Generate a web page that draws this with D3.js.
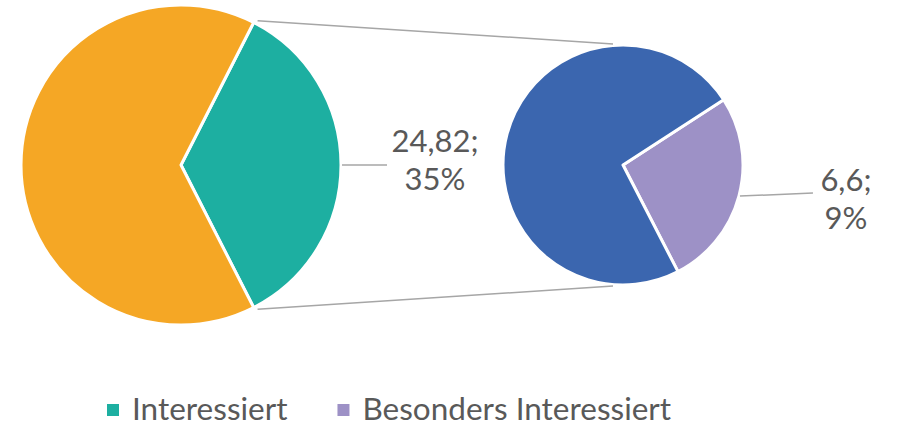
<!DOCTYPE html>
<html>
<head>
<meta charset="utf-8">
<script src="https://cdn.jsdelivr.net/npm/d3@7"></script>
<style>
  body { margin: 0; background: #fff; }
  svg { display: block; font-family: Lato, "Open Sans", sans-serif; }
</style>
</head>
<body>
<div id="chart"></div>
<script>
// main pie: [split slice, rest]
const mainNames = ["Interessiert", "Rest"];
const mainValues = [24.82, 46.1];
const mainColors = ["#1DAFA1", "#F5A725"];

// second pie: breakdown of the split slice
const subNames = ["Besonders Interessiert", "Sonstige"];
const subValues = [6.6, 18.22];
const subColors = ["#9D91C6", "#3B66AF"];

const labels = [
    { lines: ["24,82;", "35%"] },
    { lines: ["6,6;", "9%"] }
];

const legendItems = [
    { name: "Interessiert", color: "#1DAFA1" },
    { name: "Besonders Interessiert", color: "#9D91C6" }
];

const width = 899, height = 427;
const textColor = "#595959";

const svg = d3.select("#chart").append("svg")
    .attr("width", width)
    .attr("height", height);

const main = { cx: 181, cy: 165, r: 160 };
const sub = { cx: 623, cy: 165, r: 120 };

// main pie, split slice centred on the right side
const mainTotal = d3.sum(mainValues);
const splitAngle = mainValues[0] / mainTotal * 2 * Math.PI;
const mainPie = d3.pie().sort(null)
    .startAngle(Math.PI / 2 - splitAngle / 2)
    .endAngle(Math.PI / 2 - splitAngle / 2 + 2 * Math.PI);
const mainArcs = mainPie(mainValues);

const arcMain = d3.arc().innerRadius(0).outerRadius(main.r);

const gMain = svg.append("g").attr("transform", `translate(${main.cx},${main.cy})`);
gMain.selectAll("path")
    .data(mainArcs)
    .join("path")
    .attr("d", arcMain)
    .attr("fill", (d, i) => mainColors[i])
    .attr("stroke", "#fff")
    .attr("stroke-width", 3)
    .attr("stroke-linejoin", "round");

// second pie
const subStart = 57 * Math.PI / 180;
const subPie = d3.pie().sort(null)
    .startAngle(subStart)
    .endAngle(subStart + 2 * Math.PI);
const subArcs = subPie(subValues);
const arcSub = d3.arc().innerRadius(0).outerRadius(sub.r);

const gSub = svg.append("g").attr("transform", `translate(${sub.cx},${sub.cy})`);
gSub.selectAll("path")
    .data(subArcs)
    .join("path")
    .attr("d", arcSub)
    .attr("fill", (d, i) => subColors[i])
    .attr("stroke", "#fff")
    .attr("stroke-width", 3)
    .attr("stroke-linejoin", "round");

// connector lines from split slice corners to top/bottom of second pie
const polar = (c, r, a) => [c.cx + r * Math.sin(a), c.cy - r * Math.cos(a)];
const split = mainArcs[0];
const pTop = polar(main, main.r + 2, split.startAngle);
const pBot = polar(main, main.r + 2, split.endAngle);
svg.append("line")
    .attr("x1", pTop[0] + 3).attr("y1", pTop[1])
    .attr("x2", sub.cx - 10).attr("y2", sub.cy - sub.r - 1)
    .attr("stroke", "#A6A6A6").attr("stroke-width", 1.5);
svg.append("line")
    .attr("x1", pBot[0] + 3).attr("y1", pBot[1])
    .attr("x2", sub.cx - 10).attr("y2", sub.cy + sub.r + 1)
    .attr("stroke", "#A6A6A6").attr("stroke-width", 1.5);

// data labels with leader lines
const mainMid = (split.startAngle + split.endAngle) / 2;
const l1a = polar(main, main.r + 1, mainMid);
svg.append("line")
    .attr("x1", l1a[0]).attr("y1", l1a[1])
    .attr("x2", l1a[0] + 45).attr("y2", l1a[1])
    .attr("stroke", "#A6A6A6").attr("stroke-width", 1.5);

const subArc = subArcs[0];
const l2a = polar(sub, sub.r + 1, (subArc.startAngle + subArc.endAngle) / 2);
svg.append("line")
    .attr("x1", l2a[0]).attr("y1", l2a[1])
    .attr("x2", l2a[0] + 73).attr("y2", l2a[1] - 3)
    .attr("stroke", "#A6A6A6").attr("stroke-width", 1.5);

const labelPos = [
    { x: l1a[0] + 93, y: 152 },
    { x: l2a[0] + 106, y: 191 }
];

labels.forEach((lab, i) => {
    const t = svg.append("text")
        .attr("text-anchor", "middle")
        .attr("fill", textColor)
        .attr("font-size", 31);
    lab.lines.forEach((ln, j) => {
        t.append("tspan")
            .attr("x", labelPos[i].x)
            .attr("y", labelPos[i].y + j * 38)
            .text(ln);
    });
});

// legend
const legend = svg.append("g").attr("transform", "translate(107,420)");
let lx = 0;
legendItems.forEach(item => {
    const g = legend.append("g").attr("transform", `translate(${lx},0)`);
    g.append("rect")
        .attr("x", 0).attr("y", -16)
        .attr("width", 12).attr("height", 12)
        .attr("fill", item.color);
    const t = g.append("text")
        .attr("x", 25).attr("y", 0)
        .attr("fill", textColor)
        .attr("font-size", 31.5)
        .text(item.name);
    lx += 25 + t.node().getComputedTextLength() + 50;
});
</script>
</body>
</html>
